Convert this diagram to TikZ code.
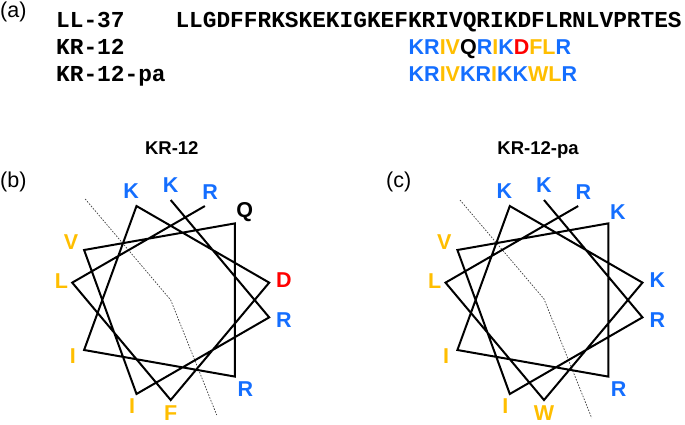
\documentclass[tikz,border=0pt]{standalone}
\usepackage{fontspec}
\setmainfont{Liberation Sans}
\newfontfamily\seqfont{Liberation Mono}
\definecolor{resblue}{RGB}{20,110,255}
\definecolor{resgold}{RGB}{255,190,0}
\definecolor{resred}{RGB}{255,0,0}
\newcommand{\resB}[1]{\textcolor{resblue}{#1}}
\newcommand{\resY}[1]{\textcolor{resgold}{#1}}
\newcommand{\resR}[1]{\textcolor{resred}{#1}}

\begin{document}
\begin{tikzpicture}[x=1pt,y=1pt,
  seq node/.style={anchor=base west,inner sep=0pt,font=\seqfont\bfseries\fontsize{22.8}{24}\selectfont},
  aa node/.style={anchor=base west,inner sep=0pt,font=\bfseries\fontsize{21.5}{22}\selectfont},
  res node/.style={inner sep=0pt,font=\bfseries\fontsize{21.5}{22}\selectfont},
  panel node/.style={anchor=base west,inner sep=0pt,font=\fontsize{21.5}{22}\selectfont},
  title node/.style={anchor=base,inner sep=0pt,font=\bfseries\fontsize{18.5}{19}\selectfont},
  helix/.style={line width=2pt,black},
  face/.style={line width=0.7pt,black!75,dash pattern=on 1.6pt off 1.4pt}]

            \useasboundingbox (0,0) rectangle (685,424);

            % (a) sequences
            \node[panel node] (pa) at (0,406.5) {(a)};
            \node[seq node] (ll37) at (56,396.7) {LL-37};
            \node[seq node] (kr12) at (56,369) {KR-12};
            \node[seq node] (kr12pa) at (56,342.5) {KR-12-pa};
            \node[seq node] (ll37seq) at (175.3,396.7) {LLGDFFRKSKEKIGKEFKRIVQRIKDFLRNLVPRTES};
            \node[aa node] (kr12seq) at (408.5,369)
                {\resB{KR}\resY{IV}Q\resB{R}\resY{I}\resB{K}\resR{D}\resY{FL}\resB{R}};
            \node[aa node] (kr12paseq) at (408.5,342.5)
                {\resB{KR}\resY{IV}\resB{KR}\resY{I}\resB{KK}\resY{WL}\resB{R}};

            % (b) helical wheel of KR-12
            \node[panel node] (pb) at (0,237) {(b)};
            \node[title node] (tb) at (171.8,270) {KR-12};
            \begin{scope}[shift={(170.7,124)}]
                \coordinate (bc) at (0,0);
                \coordinate (b1) at (90:100);
                \coordinate (b2) at (-10:100);
                \coordinate (b3) at (-110:100);
                \coordinate (b4) at (150:100);
                \coordinate (b5) at (50:100);
                \coordinate (b6) at (-50:100);
                \coordinate (b7) at (210:100);
                \coordinate (b8) at (110:100);
                \coordinate (b9) at (10:100);
                \coordinate (b10) at (-90:100);
                \coordinate (b11) at (170:100);
                \coordinate (b12) at (70:100);
                \coordinate (bt) at (-85.5,101);
                \coordinate (bbot) at (46,-115);

                \node[res node,resblue] (b1l) at (90:115) {K};
                \node[res node,resblue] (b2l) at (-10:115) {R};
                \node[res node,resgold] (b3l) at (-110:113) {I};
                \node[res node,resgold] (b4l) at (150:115) {V};
                \node[res node,black] (b5l) at (50:115) {Q};
                \node[res node,resblue] (b6l) at (-50:116) {R};
                \node[res node,resgold] (b7l) at (210:113) {I};
                \node[res node,resblue] (b8l) at (110:116) {K};
                \node[res node,resred] (b9l) at (10:115) {D};
                \node[res node,resgold] (b10l) at (-90:113) {F};
                \node[res node,resgold] (b11l) at (170:111) {L};
                \node[res node,resblue] (b12l) at (70:115) {R};
            \end{scope}

            \draw[face] (bt) -- (bc) -- (bbot);
            \draw[helix] (b1) -- (b2) -- (b3) -- (b4) -- (b5) -- (b6) -- (b7)
                -- (b8) -- (b9) -- (b10) -- (b11) -- (b12);

            % (c) helical wheel of KR-12-pa
            \node[panel node] (pc) at (386,237) {(c)};
            \node[title node] (tc) at (538,270) {KR-12-pa};
            \begin{scope}[shift={(544,124)}]
                \coordinate (cc) at (0,1);
                \coordinate (c1) at (90:100);
                \coordinate (c2) at (-10:100);
                \coordinate (c3) at (-110:100);
                \coordinate (c4) at (150:100);
                \coordinate (c5) at (50:100);
                \coordinate (c6) at (-50:100);
                \coordinate (c7) at (210:100);
                \coordinate (c8) at (110:100);
                \coordinate (c9) at (10:100);
                \coordinate (c10) at (-90:100);
                \coordinate (c11) at (170:100);
                \coordinate (c12) at (70:100);
                \coordinate (ct) at (-84,100);
                \coordinate (cbot) at (47.7,-118);

                \node[res node,resblue] (c1l) at (90:115) {K};
                \node[res node,resblue] (c2l) at (-10:115) {R};
                \node[res node,resgold] (c3l) at (-110:113) {I};
                \node[res node,resgold] (c4l) at (150:115) {V};
                \node[res node,resblue] (c5l) at (50:115) {K};
                \node[res node,resblue] (c6l) at (-50:116) {R};
                \node[res node,resgold] (c7l) at (210:113) {I};
                \node[res node,resblue] (c8l) at (110:116) {K};
                \node[res node,resblue] (c9l) at (10:115) {K};
                \node[res node,resgold] (c10l) at (-90:113) {W};
                \node[res node,resgold] (c11l) at (170:111) {L};
                \node[res node,resblue] (c12l) at (70:115) {R};
            \end{scope}

            \draw[face] (ct) -- (cc) -- (cbot);
            \draw[helix] (c1) -- (c2) -- (c3) -- (c4) -- (c5) -- (c6) -- (c7)
                -- (c8) -- (c9) -- (c10) -- (c11) -- (c12);

        \end{tikzpicture}
\end{document}
